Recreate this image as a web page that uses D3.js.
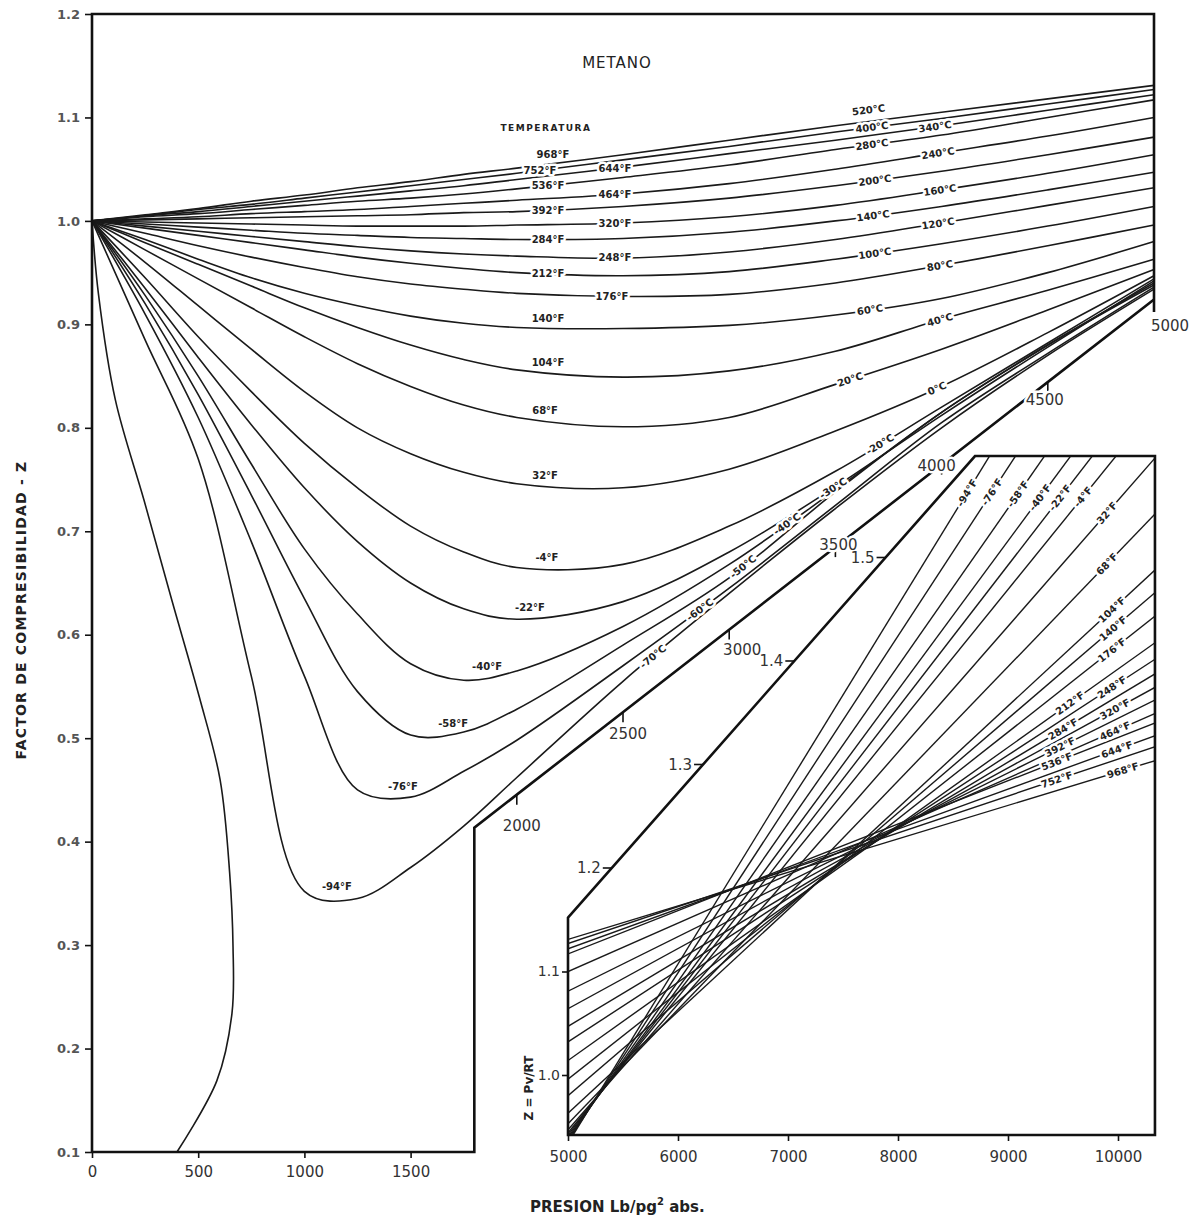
<!DOCTYPE html>
<html>
<head>
<meta charset="utf-8">
<script src="https://cdnjs.cloudflare.com/ajax/libs/d3/7.8.5/d3.min.js"></script>
<style>
body { margin: 0; background: #fff; }
text { font-family: "DejaVu Sans", "Liberation Sans", sans-serif; fill: #222; }
.curve { fill: none; stroke: #1a1a1a; stroke-width: 1.6; }
.frame { fill: none; stroke: #111; stroke-width: 2.6; }
.tick line { stroke: #111; stroke-width: 1.6; }
.tlab { font-size: 10px; font-weight: bold; paint-order: stroke; stroke: #fff; stroke-width: 5px; stroke-linejoin: round; }
.num { font-size: 15px; fill: #333; }
</style>
</head>
<body>
<div id="chart"></div>
<script>
// ---- Data ----
var pressures = [0, 250, 500, 750, 1000, 1250, 1500, 1750, 2000, 2500, 3000, 3500, 4000, 4500, 5000];
var tempsF = [968, 752, 644, 536, 464, 392, 320, 284, 248, 212, 176, 140, 104, 68, 32, -4, -22, -40, -58, -76, -94];
var tempsC = [520, 400, 340, 280, 240, 200, 160, 140, 120, 100, 80, 60, 40, 20, 0, -20, -30, -40, -50, -60, -70];

// Z at each pressure, one row per temperature (same order as tempsF)
var zCurves = [
    [1.000, 1.006, 1.012, 1.019, 1.025, 1.032, 1.038, 1.045, 1.051, 1.064, 1.078, 1.092, 1.105, 1.118, 1.131],
    [1.000, 1.005, 1.011, 1.016, 1.022, 1.028, 1.034, 1.040, 1.046, 1.059, 1.072, 1.086, 1.099, 1.113, 1.127],
    [1.000, 1.005, 1.009, 1.014, 1.019, 1.024, 1.029, 1.034, 1.040, 1.052, 1.065, 1.078, 1.092, 1.107, 1.122],
    [1.000, 1.004, 1.007, 1.011, 1.015, 1.019, 1.022, 1.026, 1.031, 1.042, 1.054, 1.069, 1.083, 1.100, 1.117],
    [1.000, 1.002, 1.004, 1.007, 1.009, 1.011, 1.014, 1.017, 1.020, 1.026, 1.036, 1.050, 1.066, 1.082, 1.100],
    [1.000, 1.001, 1.002, 1.003, 1.004, 1.005, 1.006, 1.008, 1.009, 1.014, 1.022, 1.034, 1.048, 1.064, 1.081],
    [1.000, 0.999, 0.998, 0.997, 0.996, 0.995, 0.995, 0.995, 0.996, 0.998, 1.004, 1.015, 1.030, 1.046, 1.064],
    [1.000, 0.997, 0.994, 0.991, 0.988, 0.986, 0.984, 0.983, 0.982, 0.983, 0.989, 1.000, 1.014, 1.030, 1.047],
    [1.000, 0.995, 0.990, 0.985, 0.980, 0.975, 0.971, 0.968, 0.966, 0.964, 0.970, 0.982, 0.998, 1.015, 1.032],
    [1.000, 0.993, 0.986, 0.979, 0.972, 0.965, 0.959, 0.954, 0.950, 0.947, 0.951, 0.963, 0.978, 0.995, 1.014],
    [1.000, 0.988, 0.976, 0.965, 0.955, 0.946, 0.939, 0.934, 0.930, 0.927, 0.929, 0.940, 0.957, 0.976, 0.996],
    [1.000, 0.982, 0.963, 0.945, 0.930, 0.918, 0.908, 0.901, 0.897, 0.896, 0.899, 0.909, 0.925, 0.950, 0.980],
    [1.000, 0.979, 0.958, 0.937, 0.916, 0.897, 0.880, 0.866, 0.856, 0.849, 0.855, 0.874, 0.905, 0.933, 0.963],
    [1.000, 0.972, 0.944, 0.916, 0.888, 0.862, 0.840, 0.822, 0.810, 0.801, 0.810, 0.842, 0.876, 0.914, 0.953],
    [1.000, 0.960, 0.918, 0.876, 0.835, 0.800, 0.775, 0.757, 0.746, 0.742, 0.760, 0.797, 0.840, 0.892, 0.947],
    [1.000, 0.945, 0.888, 0.835, 0.785, 0.742, 0.705, 0.680, 0.665, 0.668, 0.705, 0.758, 0.820, 0.882, 0.944],
    [1.000, 0.935, 0.868, 0.803, 0.742, 0.690, 0.650, 0.625, 0.615, 0.632, 0.680, 0.743, 0.812, 0.878, 0.942],
    [1.000, 0.928, 0.850, 0.765, 0.683, 0.620, 0.572, 0.556, 0.565, 0.608, 0.668, 0.740, 0.815, 0.880, 0.940],
    [1.000, 0.920, 0.832, 0.735, 0.635, 0.545, 0.503, 0.506, 0.528, 0.590, 0.655, 0.738, 0.815, 0.880, 0.938],
    [1.000, 0.910, 0.810, 0.690, 0.560, 0.450, 0.443, 0.468, 0.498, 0.570, 0.645, 0.725, 0.805, 0.872, 0.936],
    [1.000, 0.885, 0.770, 0.560, 0.352, 0.345, 0.375, 0.415, 0.462, 0.555, 0.640, 0.722, 0.800, 0.870, 0.934]
];

// pressure where each label sits
var labelPressF = [2170, 2109, 2462, 2147, 2462, 2147, 2462, 2147, 2462, 2147, 2448, 2147, 2147, 2133, 2133, 2142, 2062, 1860, 1700, 1464, 1153];
var labelPressC = [3663, 3672, 3969, 3672, 3983, 3686, 3992, 3677, 3983, 3686, 3992, 3663, 3992, 3569, 3978, 3710, 3489, 3272, 3065, 2862, 2641];

// unlabeled left-most curve (not single valued in pressure)
var leftPress = [0, 30, 110, 245, 375, 505, 603, 648, 664, 659, 588, 400];
var leftZ = [1.000, 0.930, 0.827, 0.730, 0.634, 0.540, 0.460, 0.370, 0.298, 0.234, 0.169, 0.100];

// lower boundary of the main chart (pressure axis drawn diagonally)
var stepPress = [0, 1800, 1800, 5000];
var stepZ = [0.100, 0.100, 0.4135, 0.924];

// inset: straight lines, Z at 5000 and 10500 psi (same order as tempsF)
var insetZ5000 = [1.131, 1.127, 1.122, 1.117, 1.100, 1.081, 1.064, 1.047, 1.032, 1.014, 0.996, 0.980, 0.963, 0.953, 0.947, 0.944, 0.942, 0.940, 0.938, 0.936, 0.934];
var insetZ10500 = [1.309, 1.323, 1.334, 1.347, 1.357, 1.371, 1.384, 1.398, 1.413, 1.430, 1.457, 1.481, 1.504, 1.560, 1.616, 1.666, 1.699, 1.732, 1.776, 1.831, 1.887];
var insetLabelPress = [10045, 9445, 9991, 9445, 9973, 9473, 9973, 9500, 9945, 9564, 9945, 9955, 9945, 9900, 9900, 9682, 9473, 9291, 9091, 8855, 8627];

// inset frame corners
var insetPress = [5000, 8700, 10336, 10336, 5000];
var insetZ = [1.152, 1.598, 1.598, 0.942, 0.942];

var yTicks = [0.1, 0.2, 0.3, 0.4, 0.5, 0.6, 0.7, 0.8, 0.9, 1.0, 1.1, 1.2];
var xTicks = [0, 500, 1000, 1500];
var diagTicks = [2000, 2500, 3000, 3500, 4000, 4500, 5000];
var insetXTicks = [5000, 6000, 7000, 8000, 9000, 10000];
var insetYTicks = [1.0, 1.1];
var insetDiagTicks = [1.2, 1.3, 1.4, 1.5];

// ---- Chart ----
var W = 1190, H = 1224;
var svg = d3.select('#chart').append('svg')
    .attr('width', W)
    .attr('height', H);
svg.append('rect').attr('width', W).attr('height', H).attr('fill', '#fff');

var x = d3.scaleLinear().domain([0, 5000]).range([92, 1154]);
var y = d3.scaleLinear().domain([0.1, 1.2]).range([1152, 14]);

var xIn = d3.scaleLinear().domain([5000, 10000]).range([568, 1118]);
var yIn = d3.scaleLinear().domain([1.0, 1.5]).range([1075, 557.5]);

var smooth = d3.line()
    .x(function(d) { return x(d[0]); })
    .y(function(d) { return y(d[1]); })
    .curve(d3.curveCatmullRom.alpha(0.5));

var straight = d3.line()
    .x(function(d) { return x(d[0]); })
    .y(function(d) { return y(d[1]); });

// diagonal pressure axis
var diagZ = d3.scaleLinear().domain([1800, 5000]).range([0.4135, 0.924]);

// curves
var curves = svg.append('g');
zCurves.forEach(function(zs) {
    var pts = pressures.map(function(p, j) { return [p, zs[j]]; });
    curves.append('path').attr('class', 'curve').attr('d', smooth(pts));
});
curves.append('path').attr('class', 'curve')
    .attr('d', smooth(leftPress.map(function(p, j) { return [p, leftZ[j]]; })));

// frame
svg.append('path').attr('class', 'frame')
    .attr('d', straight([[0, 0.1], [0, 1.2], [5000, 1.2], [5000, 0.912]]));
svg.append('path').attr('class', 'frame')
    .attr('d', straight(stepPress.map(function(p, j) { return [p, stepZ[j]]; })));

// y axis
var yAxis = svg.append('g')
    .attr('class', 'tick')
    .attr('transform', 'translate(' + x(0) + ',0)')
    .call(d3.axisLeft(y).tickValues(yTicks).tickSize(7).tickPadding(5).tickFormat(d3.format('.1f')));
yAxis.select('.domain').remove();
yAxis.selectAll('text').attr('class', 'num').style('font-size', '13px').style('font-weight', 'bold').style('fill', '#555');

// x axis (bottom, 0-1500)
var xAxis = svg.append('g')
    .attr('class', 'tick')
    .attr('transform', 'translate(0,' + y(0.1) + ')')
    .call(d3.axisBottom(x).tickValues(xTicks).tickSize(6).tickPadding(8).tickFormat(d3.format('d')));
xAxis.select('.domain').remove();
xAxis.selectAll('text').attr('class', 'num');

// ticks on diagonal axis; label offsets follow the original lettering
var diagLabelOffset = [[5, 36], [5, 27], [13, 25], [3, 3], [-5, 6], [-3, 23], [16, 31]];
diagTicks.forEach(function(p, i) {
    var tx = x(p), ty = y(diagZ(p));
    svg.append('line').attr('x1', tx).attr('x2', tx).attr('y1', ty).attr('y2', ty + 10)
        .attr('stroke', '#111').attr('stroke-width', 1.6);
    svg.append('text').attr('class', 'num')
        .attr('x', tx + diagLabelOffset[i][0]).attr('y', ty + diagLabelOffset[i][1])
        .attr('text-anchor', 'middle')
        .style('paint-order', 'stroke').style('stroke', '#fff').style('stroke-width', '5px')
        .text(p);
});

// slope helper in pixel space
function angleAt(zs, p) {
    var f = d3.scaleLinear().domain(pressures).range(zs);
    var dx = x(p + 60) - x(p - 60), dy = y(f(p + 60)) - y(f(p - 60));
    return Math.atan2(dy, dx) * 180 / Math.PI;
}

// Fahrenheit labels
zCurves.forEach(function(zs, i) {
    var f = d3.scaleLinear().domain(pressures).range(zs);
    var p = labelPressF[i];
    var ly = y(f(p));
    var onLine = tempsF[i] >= 176 && tempsF[i] !== 968;
    svg.append('text').attr('class', 'tlab')
        .attr('x', x(p)).attr('y', onLine ? ly + 3.5 : ly - 6)
        .attr('text-anchor', 'middle')
        .text(tempsF[i] + '°F');
});

// Celsius labels
zCurves.forEach(function(zs, i) {
    var f = d3.scaleLinear().domain(pressures).range(zs);
    var p = labelPressC[i];
    var lx = x(p), ly = y(f(p));
    var a = angleAt(zs, p);
    var dy = tempsC[i] === 520 ? -8 : 3.5;
    svg.append('text').attr('class', 'tlab')
        .attr('transform', 'translate(' + lx + ',' + ly + ') rotate(' + a + ')')
        .attr('y', dy)
        .attr('text-anchor', 'middle')
        .text(tempsC[i] + '°C');
});

// titles
svg.append('text').attr('x', 617).attr('y', 68).attr('text-anchor', 'middle')
    .style('font-size', '15px').style('letter-spacing', '1px').text('METANO');
svg.append('text').attr('x', 546).attr('y', 131).attr('text-anchor', 'middle')
    .style('font-size', '9px').style('font-weight', 'bold').style('letter-spacing', '1.5px').text('TEMPERATURA');
svg.append('text')
    .attr('transform', 'translate(26,610) rotate(-90)')
    .attr('text-anchor', 'middle')
    .style('font-size', '14px').style('font-weight', 'bold').style('letter-spacing', '1.2px')
    .text('FACTOR DE COMPRESIBILIDAD - Z');
var xt = svg.append('text').attr('x', 530).attr('y', 1212)
    .style('font-size', '15px').style('font-weight', 'bold');
xt.append('tspan').text('PRESION  Lb/pg');
xt.append('tspan').attr('dy', -7).style('font-size', '10px').text('2');
xt.append('tspan').attr('dy', 7).text('  abs.');

// ---- Inset ----
var lineIn = d3.line()
    .x(function(d) { return xIn(d[0]); })
    .y(function(d) { return yIn(d[1]); });

var insetPts = insetPress.map(function(p, j) { return [p, insetZ[j]]; });
svg.append('clipPath').attr('id', 'insetClip')
    .append('path').attr('d', lineIn(insetPts) + 'Z');

var inset = svg.append('g').attr('clip-path', 'url(#insetClip)');
insetZ5000.forEach(function(z0, i) {
    inset.append('path').attr('class', 'curve').style('stroke-width', 1.4)
        .attr('d', lineIn([[5000, z0], [10500, insetZ10500[i]]]));
});

svg.append('path').attr('class', 'frame').attr('d', lineIn(insetPts) + 'Z');

// inset labels
insetZ5000.forEach(function(z0, i) {
    var f = d3.scaleLinear().domain([5000, 10500]).range([z0, insetZ10500[i]]);
    var p = insetLabelPress[i];
    var a = Math.atan2(yIn(insetZ10500[i]) - yIn(z0), xIn(10500) - xIn(5000)) * 180 / Math.PI;
    svg.append('text').attr('class', 'tlab')
        .attr('transform', 'translate(' + xIn(p) + ',' + yIn(f(p)) + ') rotate(' + a + ')')
        .attr('y', 3.5)
        .attr('text-anchor', 'middle')
        .text(tempsF[i] + '°F');
});

// inset axes
var xAxisIn = svg.append('g')
    .attr('class', 'tick')
    .attr('transform', 'translate(0,' + yIn(0.942) + ')')
    .call(d3.axisBottom(xIn).tickValues(insetXTicks).tickSize(6).tickPadding(10).tickFormat(d3.format('d')));
xAxisIn.select('.domain').remove();
xAxisIn.selectAll('text').attr('class', 'num');

var yAxisIn = svg.append('g')
    .attr('class', 'tick')
    .attr('transform', 'translate(' + xIn(5000) + ',0)')
    .call(d3.axisLeft(yIn).tickValues(insetYTicks).tickSize(6).tickPadding(2).tickFormat(d3.format('.1f')));
yAxisIn.select('.domain').remove();
yAxisIn.selectAll('text').attr('class', 'num').style('font-size', '14px');

var insetDiag = d3.scaleLinear().domain([1.152, 1.598]).range([5000, 8700]);
insetDiagTicks.forEach(function(z) {
    var tx = xIn(insetDiag(z)), ty = yIn(z);
    svg.append('line').attr('x1', tx - 9).attr('x2', tx).attr('y1', ty).attr('y2', ty)
        .attr('stroke', '#111').attr('stroke-width', 1.6);
    svg.append('text').attr('class', 'num')
        .attr('x', tx - 11).attr('y', ty + 5)
        .attr('text-anchor', 'end')
        .text(d3.format('.1f')(z));
});

svg.append('text')
    .attr('transform', 'translate(533,1088) rotate(-90)')
    .attr('text-anchor', 'middle')
    .style('font-size', '12px').style('font-weight', 'bold')
    .text('Z = Pv/RT');
</script>
</body>
</html>
